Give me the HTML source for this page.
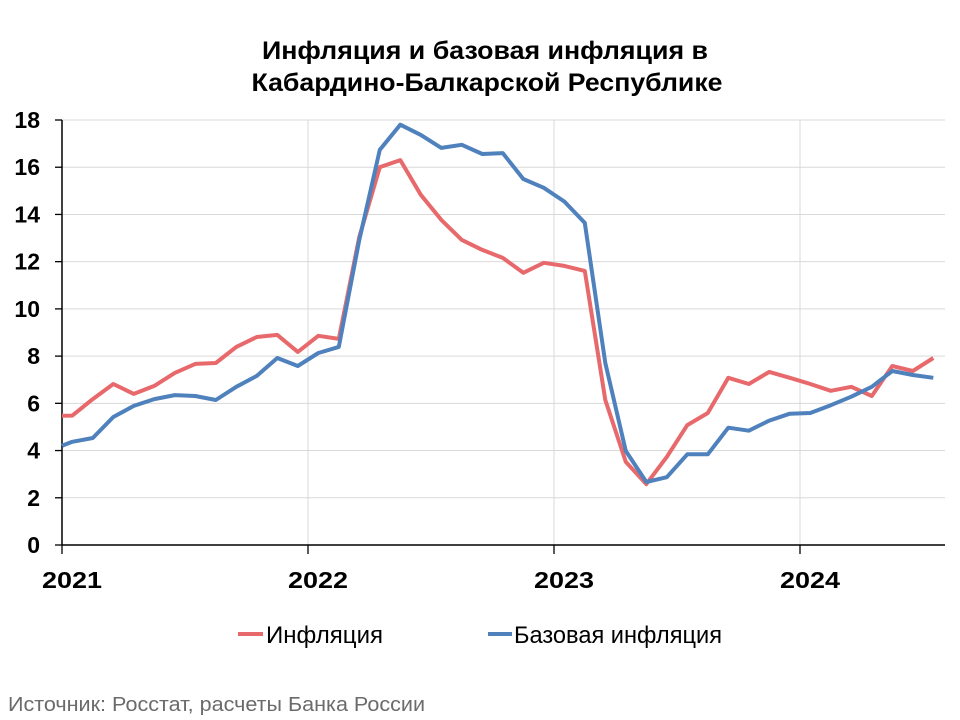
<!DOCTYPE html>
<html><head><meta charset="utf-8"><style>
html,body{margin:0;padding:0;background:#fff;}
svg{display:block;font-family:"Liberation Sans","DejaVu Sans",sans-serif;}
</style></head><body>
<svg id="chart" width="960" height="720" viewBox="0 0 960 720">
<text x="485" y="59" text-anchor="middle" font-size="25" font-weight="bold" fill="#000" textLength="446" lengthAdjust="spacingAndGlyphs">Инфляция и базовая инфляция в</text>
<text x="487" y="91" text-anchor="middle" font-size="25" font-weight="bold" fill="#000" textLength="471" lengthAdjust="spacingAndGlyphs">Кабардино-Балкарской Республике</text>
<g id="grid"></g>
<g id="axes"></g>
<g id="series"></g>
<g>
<line x1="238" y1="634" x2="263" y2="634" stroke="#E8696B" stroke-width="4"/>
<text x="266" y="643" font-size="24" textLength="117" lengthAdjust="spacingAndGlyphs">Инфляция</text>
<line x1="488" y1="634" x2="512" y2="634" stroke="#4F81BD" stroke-width="4"/>
<text x="514" y="643" font-size="24" textLength="208" lengthAdjust="spacingAndGlyphs">Базовая инфляция</text>
</g>
<text x="8" y="711" font-size="20" fill="#6b6b6b" textLength="417" lengthAdjust="spacingAndGlyphs">Источник: Росстат, расчеты Банка России</text>
</svg>
<script>
const yTicks = [0,2,4,6,8,10,12,14,16,18];
const yearLabels = ["2021","2022","2023","2024"];
const inflation = [5.47,5.48,6.18,6.82,6.4,6.74,7.29,7.67,7.71,8.39,8.81,8.9,8.18,8.86,8.73,13.05,16.0,16.3,14.83,13.77,12.92,12.5,12.16,11.53,11.95,11.82,11.61,6.14,3.52,2.58,3.73,5.08,5.59,7.08,6.82,7.33,7.08,6.82,6.53,6.7,6.31,7.58,7.37,7.92];
const coreInflation = [4.2,4.37,4.53,5.42,5.89,6.18,6.35,6.31,6.14,6.7,7.16,7.92,7.58,8.13,8.39,12.92,16.74,17.8,17.37,16.82,16.95,16.56,16.6,15.5,15.13,14.55,13.64,7.71,3.98,2.67,2.87,3.84,3.84,4.97,4.84,5.27,5.56,5.59,5.92,6.28,6.7,7.37,7.2,7.08];
const NS="http://www.w3.org/2000/svg";
const x0=62, monthW=20.5, y0=545, yPer=(545-120)/18;
function xScale(m){return x0+m*monthW;}
function yScale(v){return y0-v*yPer;}
function monthPos(i){return i===0?0:(i-1)+0.5;}
function mk(tag,attrs,parent){const e=document.createElementNS(NS,tag);for(const k in attrs)e.setAttribute(k,attrs[k]);parent.appendChild(e);return e;}
const grid=document.getElementById('grid'), axes=document.getElementById('axes'), series=document.getElementById('series');
const xEnd=945;
yTicks.forEach(t=>{
  const y=yScale(t);
  if(t>0){const l=mk('line',{x1:x0,x2:xEnd,y1:y,y2:y,stroke:'#d9d9d9','stroke-width':1},grid);
  
  }
  const tk=mk('line',{x1:x0-7,x2:x0,y1:y,y2:y,stroke:'#000','stroke-width':1.3},axes);
  
  
  const tx=mk('text',{x:40,y:y+8,'text-anchor':'end','font-size':23,'font-weight':'bold'},axes);
  tx.textContent=t;
  
  
});
yearLabels.forEach((lab,i)=>{
  const x=xScale(i*12);
  if(i>0){const g=mk('line',{x1:x,x2:x,y1:120,y2:y0,stroke:'#d9d9d9','stroke-width':1},grid);
  
  }
  const tk=mk('line',{x1:x,x2:x,y1:y0,y2:y0+9,stroke:'#000','stroke-width':1.3},axes);
  
  
  const tx=mk('text',{x:x+10,y:588,'text-anchor':'middle','font-size':23,'font-weight':'bold',textLength:60,lengthAdjust:'spacingAndGlyphs'},axes);
  tx.textContent=lab;
  
  
});
const ya=mk('line',{x1:x0,x2:x0,y1:120,y2:y0,stroke:'#000','stroke-width':1.5},axes);


const xa=mk('line',{x1:x0,x2:xEnd,y1:y0,y2:y0,stroke:'#000','stroke-width':1.5},axes);


function draw(vals,color,name){
  const pts=vals.map((v,i)=>xScale(monthPos(i)).toFixed(1)+','+yScale(v).toFixed(1)).join(' ');
  const p=mk('polyline',{points:pts,fill:'none',stroke:color,'stroke-width':4,'stroke-linejoin':'round'},series);
  
  
}
draw(inflation,'#E8696B','line-inflation');
draw(coreInflation,'#4F81BD','line-core-inflation');
</script>
</body></html>
